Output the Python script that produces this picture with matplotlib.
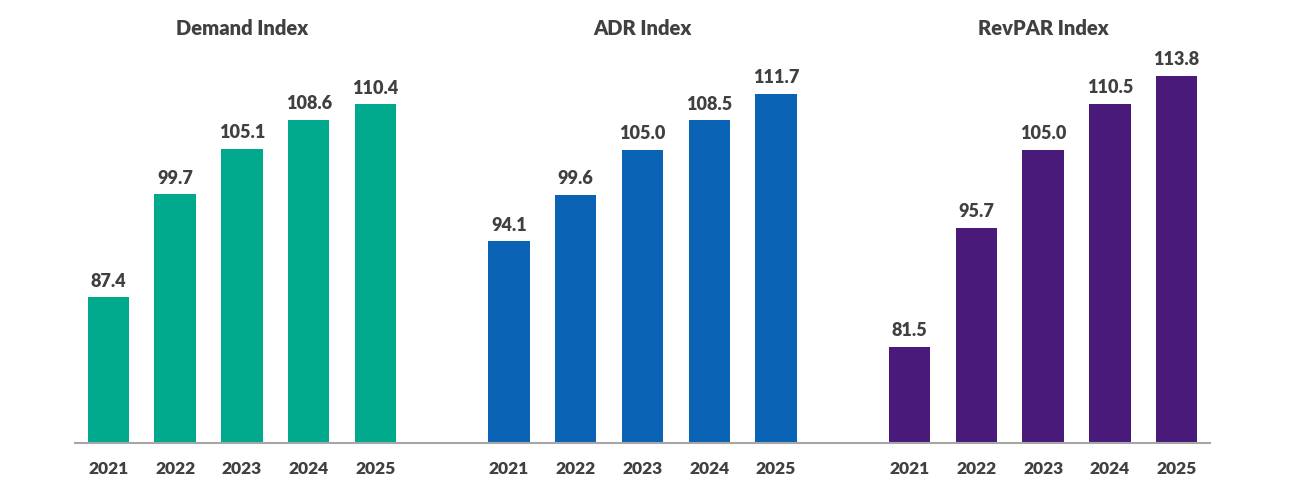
import matplotlib.pyplot as plt
import numpy as np

years = ["2021", "2022", "2023", "2024", "2025"]
titles = ["Demand Index", "ADR Index", "RevPAR Index"]
demand = [87.4, 99.7, 105.1, 108.6, 110.4]
adr = [94.1, 99.6, 105.0, 108.5, 111.7]
revpar = [81.5, 95.7, 105.0, 110.5, 113.8]
colors = ["#00A88C", "#0A63B4", "#4A1A7A"]

plt.rcParams['font.family'] = ['Lato', 'DejaVu Sans']
txt = "#404040"

fig = plt.figure(figsize=(12.99, 4.86), dpi=100)
ax = fig.add_axes([0.0577, 0.0885, 0.8738, 0.862])

ticks = []
labels = []
for g, (vals, title, col) in enumerate(zip([demand, adr, revpar], titles, colors)):
    x = np.arange(len(vals)) + g * 6
    ax.bar(x, np.array(vals) - 70, bottom=70, width=0.62, color=col)
    for xi, v in zip(x, vals):
        ax.text(xi, v + 0.9, f"{v:.1f}", ha="center", va="bottom",
                fontsize=13, fontweight="heavy", color=txt)
    ax.text(x.mean(), 119.5, title, ha="center", va="center",
            fontsize=14.5, fontweight="heavy", color=txt, clip_on=False)
    ticks += list(x)
    labels += years

ax.set_xlim(-0.5, 16.5)
ax.set_ylim(70, 120)
ax.set_xticks(ticks)
ax.set_xticklabels(labels, fontsize=12.5, fontweight="heavy", color=txt)
ax.tick_params(axis="x", length=0, pad=13)
ax.set_yticks([])
for s in ["top", "right", "left"]:
    ax.spines[s].set_visible(False)
ax.spines["bottom"].set_color("#A6A6A6")
ax.spines["bottom"].set_linewidth(1.5)

fig.savefig("out.png", dpi=100)
